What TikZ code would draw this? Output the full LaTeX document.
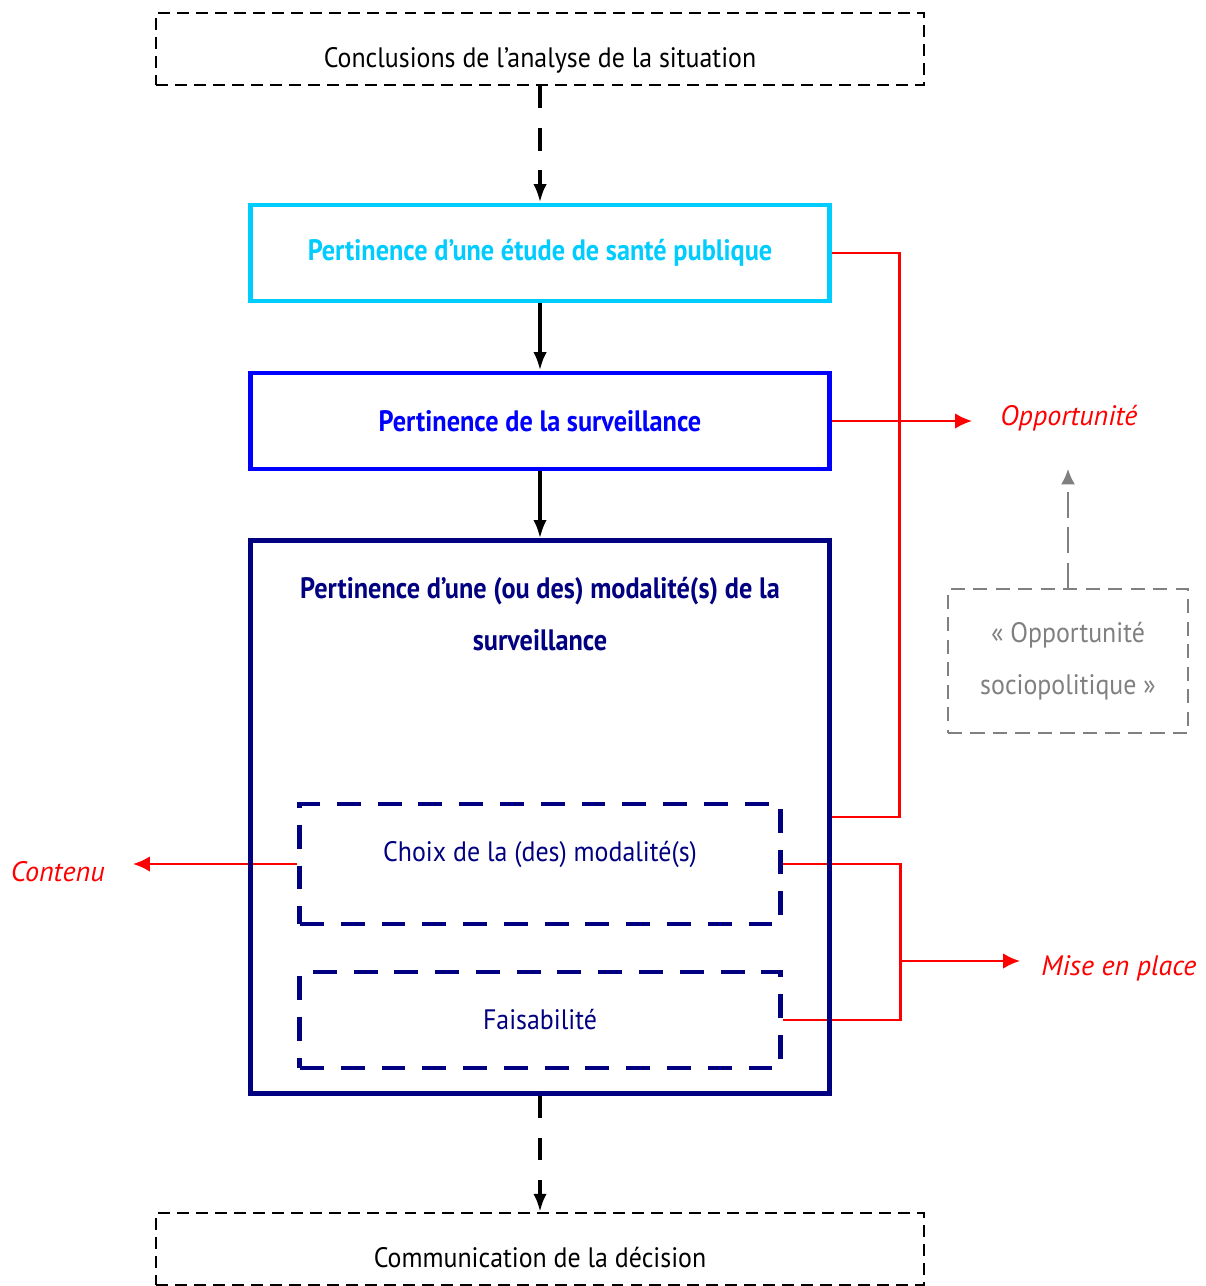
\documentclass[tikz,border=0pt]{standalone}
\usepackage{fontspec}
\setmainfont[FakeStretch=0.92]{PT Sans}
\newfontfamily\titrefont[FakeStretch=0.89]{PT Sans}
\newfontfamily\aspectfont{PT Sans}
\usepackage{tikz}
\usetikzlibrary{arrows.meta,backgrounds}

\definecolor{cyanbox}{RGB}{0,204,255}
\definecolor{bluebox}{RGB}{0,0,255}
\definecolor{navybox}{RGB}{0,0,128}
\definecolor{grisbox}{RGB}{128,128,128}
\definecolor{rouge}{RGB}{255,0,0}

\tikzset{
  etape/.style={draw=black, line width=1.3pt, dash pattern=on 8.5pt off 5pt,
    minimum width=19.2cm, minimum height=1.8cm, text height=26pt, text depth=0pt,
    font=\fontsize{20}{24}\selectfont},
  pertinence/.style={line width=3.5pt, minimum width=14.45cm, minimum height=2.4cm,
    font=\titrefont\bfseries\fontsize{21}{26}\selectfont},
  critere/.style={draw=navybox, text=navybox, line width=3.5pt, dash pattern=on 17pt off 12pt,
    minimum width=12cm, font=\fontsize{20}{24}\selectfont},
  socio/.style={draw=grisbox, text=grisbox, line width=1.6pt, dash pattern=on 10pt off 6pt,
    minimum width=6cm, minimum height=3.6cm, align=center, font=\fontsize{20}{37}\selectfont},
  fleche/.style={line width=3.5pt, -{Latex[length=13pt,width=9.5pt]}},
  flechepts/.style={fleche, dash pattern=on 16pt off 14pt},
  grisfleche/.style={draw=grisbox, line width=1.6pt, dash pattern=on 18pt off 7pt,
    -{Latex[length=11pt,width=10pt]}},
  lien/.style={draw=rouge, line width=1.6pt},
  lienfleche/.style={lien, -{Latex[length=12pt,width=11pt]}},
  aspect/.style={text=rouge, font=\aspectfont\itshape\fontsize{20}{24}\selectfont, inner xsep=20pt},
}

\begin{document}
\begin{tikzpicture}[x=0.025cm,y=-0.025cm]
    \useasboundingbox (0,0) rectangle (1205,1286);
    % Draw the boxes
    \node[etape] (concl) at (540,49) {Conclusions de l’analyse de la situation};
    \node[pertinence, draw=cyanbox, text=cyanbox] (sante) at (540,253) {Pertinence d’une étude de santé publique};
    \node[pertinence, draw=bluebox, text=bluebox] (surv) at (540,421) {Pertinence de la surveillance};
    \node[pertinence, draw=navybox, minimum height=13.8cm] (modal) at (540,817) {};
    \node[text=navybox, align=center, font=\titrefont\bfseries\fontsize{21}{37}\selectfont] (modtitre) at (540,614)
      {Pertinence d’une (ou des) modalité(s) de la\\surveillance};
    \node[critere, minimum height=3cm, text height=6pt, text depth=9.6pt] (choix) at (540,864) {Choix de la (des) modalité(s)};
    \node[critere, minimum height=2.4cm] (faisa) at (540,1020) {Faisabilité};
    \node[etape] (commu) at (540,1249) {Communication de la décision};
    \node[socio] (socio) at (1068,661) {«~Opportunité\\sociopolitique~»};
    % labels
    \node[aspect, anchor=west] (oppo) at (972,418) {Opportunité};
    \node[aspect, anchor=west, inner xsep=15pt] (place) at (1020,968) {Mise en place};
    \node[aspect, anchor=east] (contenu) at (133,872) {Contenu};
    % flow
    \draw[flechepts] (concl) -- (sante);
    \draw[fleche] (sante) -- (surv);
    \draw[fleche] (surv) -- (modal);
    \draw[flechepts] (modal) -- (commu);
    \draw[grisfleche] (socio.north) -- ++(0,-119);
    % red links
    \begin{pgfonlayer}{background}
      \draw[lien] (sante.east) -- ++(68,0) |- (modal.east);
      \draw[lienfleche] (surv.east) -- (surv.east -| oppo.west);
      \draw[lien] (choix.east) -- ++(118,0) |- (faisa.east);
      \coordinate (relais) at (900,961);
      \draw[lienfleche] (relais) -- (relais -| place.west);
      \draw[lienfleche] (choix.west) -- (choix.west -| contenu.east);
    \end{pgfonlayer}
\end{tikzpicture}
\end{document}
